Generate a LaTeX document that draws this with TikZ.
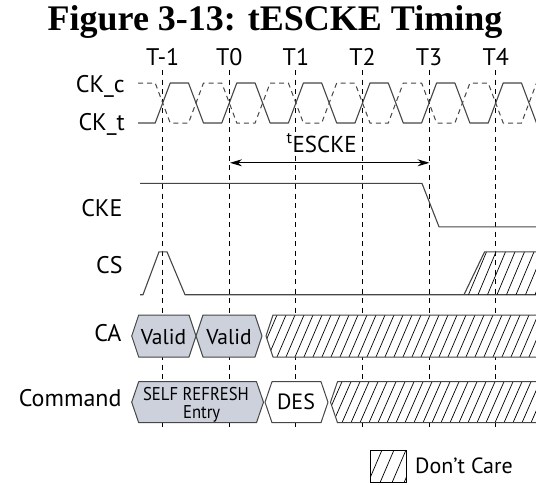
\documentclass[tikz,border=0pt]{standalone}
\usepackage{fontspec}
\setmainfont{PT Sans}
\newfontfamily\titlefont{Liberation Serif}
\usetikzlibrary{arrows.meta}
\definecolor{validgray}{RGB}{205,209,220}
\definecolor{wave}{RGB}{70,70,70}

\begin{document}
\begin{tikzpicture}[x=1pt, y=-1pt,
  sig/.style={wave, line width=1.1pt, line join=round},
  dsig/.style={wave, line width=1pt, dash pattern=on 5pt off 4pt},
  tline/.style={black, line width=0.9pt, dash pattern=on 5pt off 4.5pt},
  hatch/.style={black, line width=0.7pt},
  lbl/.style={anchor=base east, inner sep=0pt, font=\fontsize{24}{24}\selectfont},
  tlbl/.style={anchor=base, inner sep=0pt, font=\fontsize{24}{24}\selectfont},
  boxlbl/.style={anchor=base, inner sep=0pt, font=\fontsize{21.5}{21.5}\selectfont},
  bus/.style={draw=wave, line width=1pt, line join=round}]
\useasboundingbox (0,0) rectangle (536,485);

\node[anchor=base, inner sep=0pt, font=\titlefont\bfseries\fontsize{36}{36}\selectfont]
  (title) at (275,30.7) {Figure 3-13: tESCKE Timing};

% clock edges
\foreach \k/\t in {0/T-1,1/T0,2/T1,3/T2,4/T3,5/T4} {
  \pgfmathsetmacro\tx{162.7+66.6*\k}
  \node[tlbl] (lab\k) at (\tx,65) {\t};
  \coordinate (top\k) at (\tx,70);
  \coordinate (bot\k) at (\tx,430);
  \draw[tline] (top\k) -- (bot\k);
}

% CK_c / CK_t
\node[lbl] (ckc) at (125,92) {CK\_c};
\node[lbl] (ckt) at (125,130) {CK\_t};
\draw[sig] (138,123) \foreach \k in {0,...,5} {
  -- ({155.2+66.6*\k},123) -- ({170.2+66.6*\k},83)
  -- ({188.5+66.6*\k},83) -- ({203.5+66.6*\k},123) } -- (545,123);
\draw[dsig] (138,83) \foreach \k in {0,...,5} {
  -- ({155.2+66.6*\k},83) -- ({170.2+66.6*\k},123)
  -- ({188.5+66.6*\k},123) -- ({203.5+66.6*\k},83) } -- (545,83);

% tESCKE
\coordinate (esA) at (230,162.8);
\coordinate (esB) at (429.5,162.8);
\draw[black, line width=1.1pt, {Stealth[length=12pt,width=7pt]}-{Stealth[length=12pt,width=7pt]}] (esA) -- (esB);
\node[anchor=base west, inner sep=0pt, font=\fontsize{23}{23}\selectfont] (escke) at (286.5,152.5) {\textsuperscript{t}ESCKE};

% CKE
\node[lbl] (cke) at (122.7,216.7) {CKE};
\draw[sig] (140,183.4) -- (422,183.4) -- (439,226.8) -- (545,226.8);

% CS
\node[lbl] (cs) at (122.7,273) {CS};
\draw[sig] (140,294.7) -- (143,294.7) -- (159,251.8) -- (167,251.8) -- (185,294.7) -- (545,294.7);
\begin{scope}
  \clip (464,294.7) -- (484.6,251.8) -- (545,251.8) -- (545,294.7) -- cycle;
  \foreach \x in {440,449.5,...,560} \draw[hatch] (\x,294.7) -- (\x+18,251.8);
\end{scope}
\draw[sig] (464,294.7) -- (484.6,251.8) -- (545,251.8);

% CA
\node[lbl] (ca) at (121.7,341.7) {CA};
\filldraw[bus, fill=validgray] (131.7,336) -- (138.7,315) -- (189,315) -- (196,336) -- (189,357) -- (138.7,357) -- cycle;
\filldraw[bus, fill=validgray] (196,336) -- (203,315) -- (255,315) -- (262,336) -- (255,357) -- (203,357) -- cycle;
\node[boxlbl] (va1) at (163.5,344) {Valid};
\node[boxlbl] (va2) at (229,344) {Valid};
\begin{scope}
  \clip (266,336) -- (273,315) -- (545,315) -- (545,357) -- (273,357) -- cycle;
  \fill[white] (260,310) rectangle (545,360);
  \foreach \x in {250,259,...,560} \draw[hatch] (\x,357) -- (\x+18,315);
\end{scope}
\draw[bus] (545,315) -- (273,315) -- (266,336) -- (273,357) -- (545,357);

% Command
\node[lbl] (cmd) at (121.7,406.7) {Command};
\filldraw[bus, fill=validgray] (131.7,402.2) -- (138.7,381.7) -- (256.5,381.7) -- (263.5,402.2) -- (256.5,422.7) -- (138.7,422.7) -- cycle;
\node[anchor=base, inner sep=0pt, font=\fontsize{18.5}{18.5}\selectfont] (sre1) at (196,400) {\scalebox{0.9}[1]{SELF REFRESH}};
\node[anchor=base, inner sep=0pt, font=\fontsize{18.5}{18.5}\selectfont] (sre2) at (201.7,418.3) {\scalebox{0.9}[1]{Entry}};
\filldraw[bus, fill=white] (265,402.2) -- (272,381.7) -- (321,381.7) -- (328,402.2) -- (321,422.7) -- (272,422.7) -- cycle;
\node[anchor=base, inner sep=0pt, font=\fontsize{22}{22}\selectfont] (des) at (296,409.3) {DES};
\begin{scope}
  \clip (330.5,402.2) -- (337.5,381.7) -- (545,381.7) -- (545,422.7) -- (337.5,422.7) -- cycle;
  \fill[white] (325,375) rectangle (545,425);
  \foreach \x in {315,324,...,560} \draw[hatch] (\x,422.7) -- (\x+18,381.7);
\end{scope}
\draw[bus] (545,381.7) -- (337.5,381.7) -- (330.5,402.2) -- (337.5,422.7) -- (545,422.7);

% legend
\begin{scope}
  \clip (370,450) rectangle (406,482.7);
  \foreach \x in {356,368,...,410} \draw[hatch] (\x,482.7) -- (\x+14,450);
\end{scope}
\draw[black, line width=1pt] (370,450) rectangle (406,482.7);
\node[anchor=base west, inner sep=0pt, font=\fontsize{22}{22}\selectfont] (dc) at (415,473.3) {Don’t Care};
\end{tikzpicture}
\end{document}
